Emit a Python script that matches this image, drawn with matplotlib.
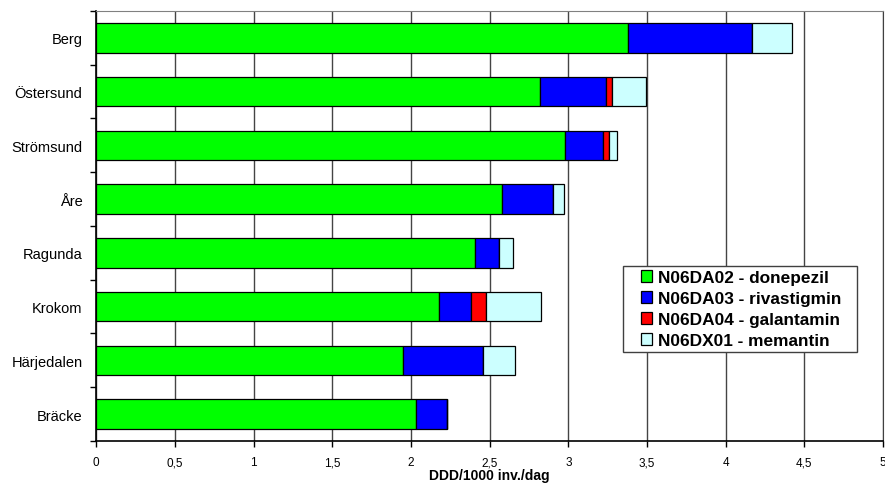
import numpy as np
import matplotlib.pyplot as plt
from matplotlib.patches import Rectangle
from matplotlib.ticker import FixedLocator, FuncFormatter

kommuner = ['Berg', 'Östersund', 'Strömsund', 'Åre', 'Ragunda', 'Krokom', 'Härjedalen', 'Bräcke']
donepezil = [3.38, 2.82, 2.98, 2.58, 2.41, 2.18, 1.95, 2.03]
rivastigmin = [0.79, 0.42, 0.24, 0.32, 0.15, 0.20, 0.51, 0.20]
galantamin = [0.0, 0.04, 0.04, 0.0, 0.0, 0.10, 0.0, 0.0]
memantin = [0.25, 0.215, 0.05, 0.075, 0.09, 0.345, 0.20, 0.0]

serier = [
    ('N06DA02 - donepezil', donepezil, '#00ff00'),
    ('N06DA03 - rivastigmin', rivastigmin, '#0000ff'),
    ('N06DA04 - galantamin', galantamin, '#ff0000'),
    ('N06DX01 - memantin', memantin, '#ccffff'),
]

plt.rcParams['font.family'] = ['Liberation Sans', 'DejaVu Sans']

fig = plt.figure(figsize=(8.85, 4.85), dpi=100)
ax = fig.add_axes([0.1088, 0.0887, 0.8889, 0.8866])

y = np.arange(len(kommuner))
left = np.zeros(len(kommuner))
for namn, vals, farg in serier:
    vals = np.array(vals)
    ax.barh(y, vals, left=left, height=0.545, color=farg, edgecolor='black',
            linewidth=0.9, label=namn, zorder=3)
    left += vals

ax.set_xlim(0, 5)
ax.set_ylim(len(kommuner) - 0.5, -0.5)
ax.set_xticks(np.arange(0, 5.01, 0.5))
ax.xaxis.set_major_formatter(FuncFormatter(lambda v, p: f'{v:g}'.replace('.', ',')))
ax.tick_params(axis='x', labelsize=8.5, length=4, width=1, pad=7)
ax.set_xlabel('DDD/1000 inv./dag', fontsize=10, fontweight='bold', labelpad=0)

ax.set_yticks(y)
ax.set_yticklabels(kommuner, fontsize=10.5)
ax.tick_params(axis='y', which='major', length=0, pad=10)
ax.yaxis.set_minor_locator(FixedLocator(np.arange(-0.5, len(kommuner), 1)))
ax.tick_params(axis='y', which='minor', length=4, width=1)

ax.grid(axis='x', color='#444444', linewidth=1, zorder=0)
ax.set_axisbelow(True)
ax.spines['top'].set_color('#808080')
ax.spines['right'].set_color('#404040')
ax.spines['left'].set_linewidth(1.2)
ax.spines['bottom'].set_linewidth(1.2)

# legend box drawn separately (Excel style: wide side margins)
ax.add_patch(Rectangle((0.669, 0.2063), 0.2976, 0.2, transform=ax.transAxes,
                       facecolor='white', edgecolor='#404040', linewidth=1, zorder=5))
leg = ax.legend(loc='upper left', bbox_to_anchor=(0.692, 0.397),
                prop={'size': 12.4, 'weight': 'bold'}, frameon=False,
                handlelength=0.68, handleheight=0.68, handletextpad=0.3,
                labelspacing=0.34, borderpad=0, borderaxespad=0)
leg.set_zorder(6)

fig.savefig('out.png', dpi=100)
